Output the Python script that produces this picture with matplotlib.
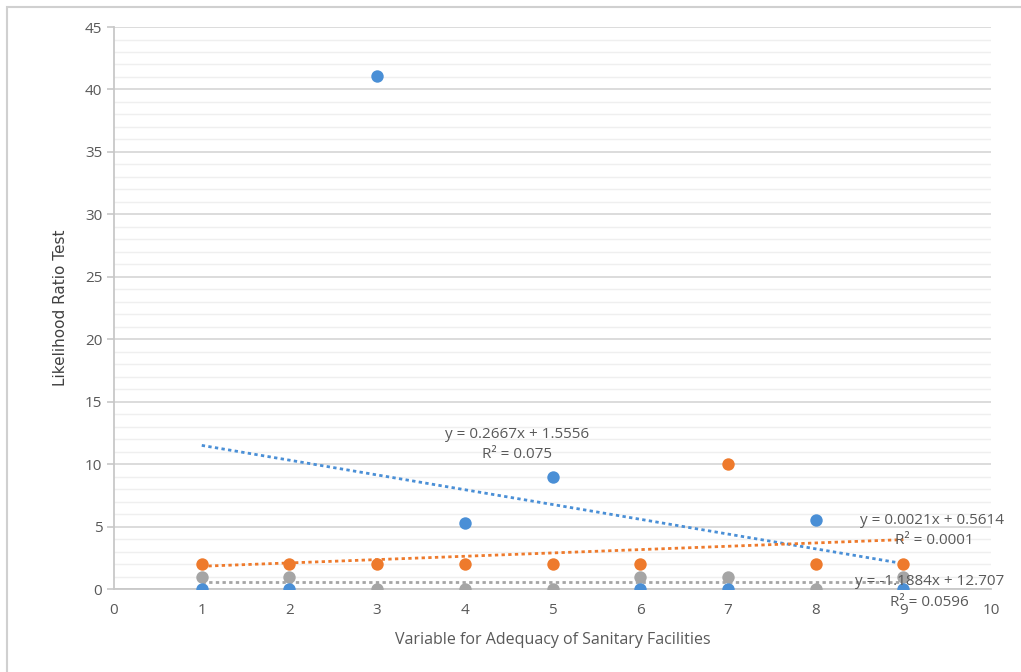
import numpy as np
import matplotlib.pyplot as plt
from matplotlib.patches import Rectangle
from matplotlib.ticker import MultipleLocator

# values
x_vals = [1, 2, 3, 4, 5, 6, 7, 8, 9]
blue_y = [0, 0, 41.1, 5.3, 9, 0, 0, 5.5, 0]
orange_y = [2, 2, 2, 2, 2, 2, 10, 2, 2]
gray_y = [1, 1, 0, 0, 0, 1, 1, 0, 1]

# trendline labels as printed on the chart
label_top = ["y = 0.2667x + 1.5556", "R\u00b2 = 0.075"]
label_mid = ["y = 0.0021x + 0.5614", "R\u00b2 = 0.0001"]
label_low = ["y = -1.1884x + 12.707", "R\u00b2 = 0.0596"]

BLUE = "#4a8fd6"
ORANGE = "#ee7a2c"
GRAY = "#a5a5a5"
TXT = "#595959"

plt.rcParams['font.family'] = ['Open Sans', 'DejaVu Sans']

fig = plt.figure(figsize=(10.21, 6.72), dpi=100)
fig.patches.append(Rectangle((0.007, -0.01), 1.0, 1.0, transform=fig.transFigure,
                             fill=False, edgecolor="#d0d0d0", linewidth=1.5))
ax = fig.add_axes([0.1117, 0.1235, 0.859, 0.8363])

x = np.array(x_vals, dtype=float)
series = [(blue_y, BLUE), (orange_y, ORANGE), (gray_y, GRAY)]
# trendlines first, markers above
for ys, col in series:
    k, b = np.polyfit(x, np.array(ys, dtype=float), 1)
    xx = np.array([1, 9])
    ax.plot(xx, k * xx + b, linestyle=(0, (1.2, 1.2)), color=col, linewidth=2, zorder=2)
for ys, col in series[::-1]:
    ax.scatter(x, ys, s=80, color=col, zorder=3, linewidths=0)

ax.set_xlim(0, 10)
ax.set_ylim(0, 45)
ax.xaxis.set_major_locator(MultipleLocator(1))
ax.yaxis.set_major_locator(MultipleLocator(5))
ax.yaxis.set_minor_locator(MultipleLocator(1))
ax.grid(axis='y', which='major', color="#d9d9d9", linewidth=1.3, zorder=0)
ax.grid(axis='y', which='minor', color="#efefef", linewidth=1.0, zorder=0)
ax.set_axisbelow(True)

for s in ['top', 'right']:
    ax.spines[s].set_visible(False)
for s in ['left', 'bottom']:
    ax.spines[s].set_color("#c8c8c8")
    ax.spines[s].set_linewidth(1.3)
ax.tick_params(axis='both', which='major', colors="#c8c8c8", labelcolor=TXT,
               labelsize=11, length=5, width=1.2)
ax.tick_params(axis='y', which='minor', length=0)
ax.tick_params(axis='x', length=0, pad=10)

ax.set_xlabel("Variable for Adequacy of Sanitary Facilities", fontsize=11.5,
              color=TXT, labelpad=10)
ax.set_ylabel("Likelihood Ratio Test", fontsize=11, color="#404040",
              family=['Liberation Sans Narrow', 'DejaVu Sans'], labelpad=12)

ax.text(4.59, 12.4, label_top[0], fontsize=11, color=TXT, ha='center', va='center')
ax.text(4.59, 10.8, label_top[1], fontsize=11, color=TXT, ha='center', va='center')
ax.text(9.33, 5.5, label_mid[0], fontsize=11, color=TXT, ha='center', va='center')
ax.text(9.35, 3.9, label_mid[1], fontsize=11, color=TXT, ha='center', va='center')
ax.text(9.3, 0.6, label_low[0], fontsize=11, color=TXT, ha='center', va='center')
ax.text(9.3, -1.1, label_low[1], fontsize=11, color=TXT, ha='center', va='center')

fig.savefig("out.png", dpi=100)
